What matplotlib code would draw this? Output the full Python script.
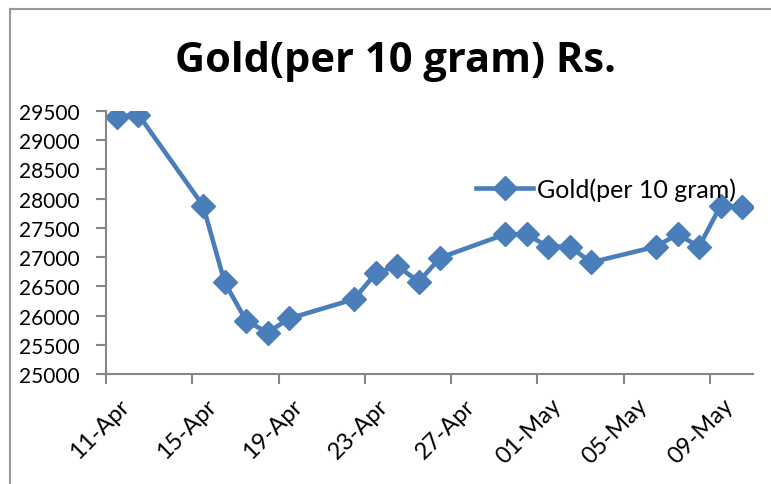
import numpy as np
import matplotlib
matplotlib.use('Agg')
import matplotlib.pyplot as plt
import matplotlib.transforms as mtransforms
from matplotlib.lines import Line2D

plt.rcParams['font.family'] = ['Lato', 'DejaVu Sans']

# days counted from 11-Apr
days = [0, 1, 4, 5, 6, 7, 8, 11, 12, 13, 14, 15, 18, 19, 20, 21, 22, 25, 26, 27, 28, 29]
prices = [29400, 29440, 27880, 26570, 25910, 25710, 25950, 26280, 26720, 26850,
          26580, 26990, 27390, 27390, 27180, 27180, 26910, 27180, 27390, 27180,
          27880, 27850]
tick_days = [0, 4, 8, 12, 16, 20, 24, 28]
tick_labels = ['11-Apr', '15-Apr', '19-Apr', '23-Apr', '27-Apr', '01-May', '05-May', '09-May']
yticks = list(range(25000, 29501, 500))

blue = '#4A7EBB'
axis_grey = '#868686'

fig = plt.figure(figsize=(7.71, 4.85), dpi=100)
ax = fig.add_axes([106/771, 1-375/485, (753-106)/771, (375-112)/485])

x = np.array(days) + 0.5  # excel puts date points in the middle of the day slot
ax.plot(x, prices, color=blue, lw=3.3, marker='D', markersize=12,
        markerfacecolor=blue, markeredgecolor=blue, label='Gold(per 10 gram)')

ax.set_xlim(0, 30)
ax.set_ylim(25000, 29500)
ax.set_yticks(yticks)
ax.set_xticks(tick_days)

for s in ['top', 'right']:
    ax.spines[s].set_visible(False)
for s in ['left', 'bottom']:
    ax.spines[s].set_color(axis_grey)
    ax.spines[s].set_linewidth(1.5)
ax.tick_params(axis='both', direction='out', length=7, width=1.5, color=axis_grey,
               labelcolor='black')
ax.tick_params(axis='y', pad=12, labelsize=15)

ax.set_xticklabels(tick_labels, rotation=45, ha='right', va='top', rotation_mode='anchor',
                   fontsize=17)
# shift the rotated labels so they hang off the date slot like excel does
offset = mtransforms.ScaledTranslation(13/100, -6/100, fig.dpi_scale_trans)
for lab in ax.get_xticklabels():
    lab.set_transform(lab.get_transform() + offset)

fig.text(396/771, 1-61/485, 'Gold(per 10 gram) Rs.', ha='center', va='center',
         fontsize=30, fontweight='bold', family='Open Sans')

leg = ax.legend(loc='upper left', bbox_to_anchor=(466/771, 1-168/485),
                bbox_transform=fig.transFigure, frameon=False, fontsize=18,
                handlelength=2.3, handletextpad=0.15, borderaxespad=0)

# chart border (top and left edges only, rest is cropped)
fig.add_artist(Line2D([10/771, 10/771], [0, 1-10/485], color='#999999', lw=1.5,
                      transform=fig.transFigure))
fig.add_artist(Line2D([10/771, 1], [1-10/485, 1-10/485], color='#999999', lw=1.5,
                      transform=fig.transFigure))

fig.savefig('out.png', dpi=100)
